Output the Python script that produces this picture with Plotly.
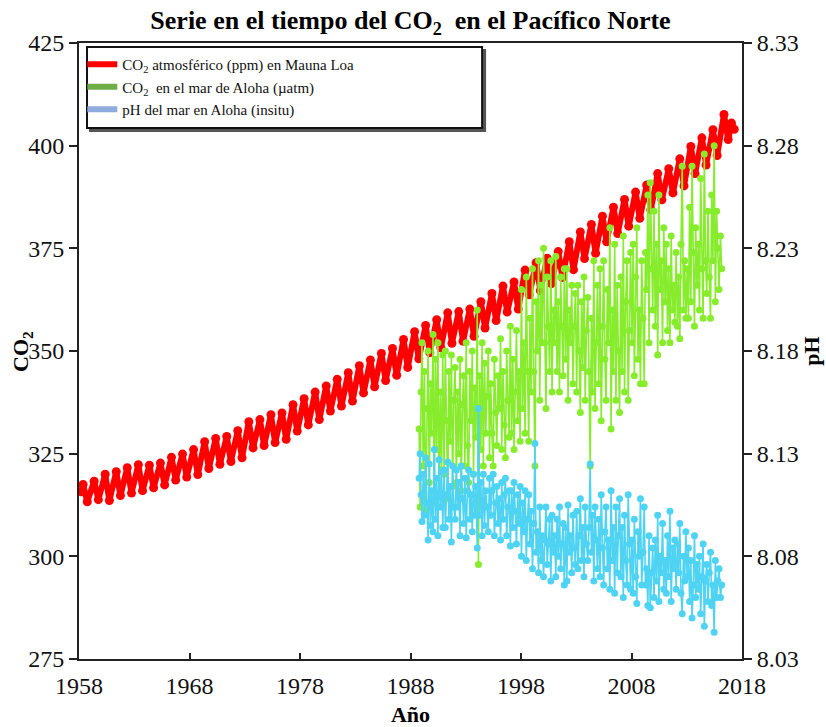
import plotly.graph_objects as go

# ---------------- Mauna Loa atmospheric CO2 (ppm): seasonal peaks / troughs ----------------
ml_time = [
    1958.21, 1958.37, 1958.75, 1959.37, 1959.75, 1960.37, 1960.75, 1961.37, 1961.75,
    1962.37, 1962.75, 1963.37, 1963.75, 1964.37, 1964.75, 1965.37, 1965.75, 1966.37, 1966.75,
    1967.37, 1967.75, 1968.37, 1968.75, 1969.37, 1969.75, 1970.37, 1970.75, 1971.37, 1971.75,
    1972.37, 1972.75, 1973.37, 1973.75, 1974.37, 1974.75, 1975.37, 1975.75, 1976.37, 1976.75,
    1977.37, 1977.75, 1978.37, 1978.75, 1979.37, 1979.75, 1980.37, 1980.75, 1981.37, 1981.75,
    1982.37, 1982.75, 1983.37, 1983.75, 1984.37, 1984.75, 1985.37, 1985.75, 1986.37, 1986.75,
    1987.37, 1987.75, 1988.37, 1988.75, 1989.37, 1989.75, 1990.37, 1990.75, 1991.37, 1991.75,
    1992.37, 1992.75, 1993.37, 1993.75, 1994.37, 1994.75, 1995.37, 1995.75, 1996.37, 1996.75,
    1997.37, 1997.75, 1998.37, 1998.75, 1999.37, 1999.75, 2000.37, 2000.75, 2001.37, 2001.75,
    2002.37, 2002.75, 2003.37, 2003.75, 2004.37, 2004.75, 2005.37, 2005.75, 2006.37, 2006.75,
    2007.37, 2007.75, 2008.37, 2008.75, 2009.37, 2009.75, 2010.37, 2010.75, 2011.37, 2011.75,
    2012.37, 2012.75, 2013.37, 2013.75, 2014.37, 2014.75, 2015.37, 2015.75, 2016.37, 2016.75,
    2017.05, 2017.30,
]
ml_co2 = [
    315.7, 317.5, 313.3, 318.3, 313.8, 320.0, 313.6, 320.6, 314.8,
    321.6, 315.4, 322.3, 316.0, 322.2, 316.7, 322.7, 317.4, 324.1, 318.6,
    324.9, 319.3, 326.0, 319.9, 327.9, 321.4, 328.7, 322.4, 329.2, 323.1,
    330.6, 324.0, 332.8, 326.4, 333.3, 327.0, 334.5, 327.7, 334.9, 328.5,
    336.9, 330.5, 338.4, 332.0, 340.0, 333.3, 341.5, 335.4, 343.1, 336.6,
    344.7, 337.8, 346.4, 339.8, 347.8, 341.3, 349.4, 342.8, 350.6, 344.1,
    352.8, 346.0, 354.7, 348.1, 356.2, 349.6, 357.6, 350.8, 359.3, 351.9,
    359.6, 352.4, 360.2, 353.6, 362.0, 355.6, 364.0, 357.4, 365.8, 359.5,
    366.8, 360.2, 369.7, 363.7, 371.5, 364.7, 372.6, 366.4, 374.2, 367.9,
    376.6, 369.8, 379.0, 372.5, 380.8, 373.8, 382.8, 376.6, 385.0, 378.6,
    386.9, 380.4, 388.7, 382.3, 390.4, 384.4, 393.2, 386.8, 394.4, 388.5,
    396.8, 390.2, 399.8, 393.2, 401.9, 395.3, 403.9, 397.6, 407.6, 401.5,
    405.5, 404.0,
]

# ---------------- Station ALOHA: seawater pCO2 (uatm) and pH (in situ) ----------------
aloha_time = [
    1988.78, 1988.87, 1988.96,
    1989.04, 1989.15, 1989.26, 1989.37, 1989.48, 1989.59, 1989.70, 1989.81, 1989.92,
    1990.04, 1990.15, 1990.26, 1990.37, 1990.48, 1990.59, 1990.70, 1990.81, 1990.92,
    1991.04, 1991.15, 1991.26, 1991.37, 1991.48, 1991.59, 1991.70, 1991.81, 1991.92,
    1992.04, 1992.15, 1992.26, 1992.37, 1992.48, 1992.59, 1992.70, 1992.81, 1992.92,
    1993.04, 1993.15, 1993.26, 1993.37, 1993.48, 1993.59, 1993.70, 1993.81, 1993.92,
    1994.04, 1994.15, 1994.26, 1994.37, 1994.48, 1994.59, 1994.70, 1994.81, 1994.92,
    1995.04, 1995.15, 1995.26, 1995.37, 1995.48, 1995.59, 1995.70, 1995.81, 1995.92,
    1996.04, 1996.15, 1996.26, 1996.37, 1996.48, 1996.59, 1996.70, 1996.81, 1996.92,
    1997.04, 1997.15, 1997.26, 1997.37, 1997.48, 1997.59, 1997.70, 1997.81, 1997.92,
    1998.04, 1998.15, 1998.26, 1998.37, 1998.48, 1998.59, 1998.70, 1998.81, 1998.92,
    1999.04, 1999.15, 1999.26, 1999.37, 1999.48, 1999.59, 1999.70, 1999.81, 1999.92,
    2000.04, 2000.15, 2000.26, 2000.37, 2000.48, 2000.59, 2000.70, 2000.81, 2000.92,
    2001.04, 2001.15, 2001.26, 2001.37, 2001.48, 2001.59, 2001.70, 2001.81, 2001.92,
    2002.04, 2002.15, 2002.26, 2002.37, 2002.48, 2002.59, 2002.70, 2002.81, 2002.92,
    2003.04, 2003.15, 2003.26, 2003.37, 2003.48, 2003.59, 2003.70, 2003.81, 2003.92,
    2004.04, 2004.15, 2004.26, 2004.37, 2004.48, 2004.59, 2004.70, 2004.81, 2004.92,
    2005.04, 2005.15, 2005.26, 2005.37, 2005.48, 2005.59, 2005.70, 2005.81, 2005.92,
    2006.04, 2006.15, 2006.26, 2006.37, 2006.48, 2006.59, 2006.70, 2006.81, 2006.92,
    2007.04, 2007.15, 2007.26, 2007.37, 2007.48, 2007.59, 2007.70, 2007.81, 2007.92,
    2008.04, 2008.15, 2008.26, 2008.37, 2008.48, 2008.59, 2008.70, 2008.81, 2008.92,
    2009.04, 2009.15, 2009.26, 2009.37, 2009.48, 2009.59, 2009.70, 2009.81, 2009.92,
    2010.04, 2010.15, 2010.26, 2010.37, 2010.48, 2010.59, 2010.70, 2010.81, 2010.92,
    2011.04, 2011.15, 2011.26, 2011.37, 2011.48, 2011.59, 2011.70, 2011.81, 2011.92,
    2012.04, 2012.15, 2012.26, 2012.37, 2012.48, 2012.59, 2012.70, 2012.81, 2012.92,
    2013.04, 2013.15, 2013.26, 2013.37, 2013.48, 2013.59, 2013.70, 2013.81, 2013.92,
    2014.04, 2014.15, 2014.26, 2014.37, 2014.48, 2014.59, 2014.70, 2014.81, 2014.92,
    2015.04, 2015.15, 2015.26, 2015.37, 2015.48, 2015.59, 2015.70, 2015.81, 2015.92,
    2016.05, 2016.16,
]
aloha_pco2 = [
    331, 312, 340,
    352, 322, 345, 311, 336, 350, 318, 342, 330,
    354, 313, 348, 326, 352, 315, 340, 321, 349,
    320, 350, 333, 314, 345, 328, 349, 317, 338,
    346, 318, 340, 325, 348, 316, 337, 344, 322,
    352, 327, 318, 345, 333, 350, 320, 341, 329,
    360, 298, 344, 326, 352, 322, 347, 330, 339,
    350, 324, 342, 330, 322, 348, 335, 327, 344,
    336, 353, 326, 345, 332, 324, 350, 338, 329,
    356, 330, 348, 326, 340, 355, 333, 345, 328,
    365, 336, 352, 330, 368, 345, 328, 358, 340,
    370, 345, 322, 362, 350, 372, 338, 366, 352,
    375, 352, 336, 368, 356, 345, 372, 340, 360,
    352, 373, 345, 362, 340, 368, 356, 344, 370,
    348, 370, 338, 360, 352, 366, 342, 356, 364,
    340, 366, 350, 335, 362, 346, 368, 338, 355,
    363, 345, 322, 358, 340, 372, 336, 352, 366,
    342, 370, 333, 356, 372, 348, 338, 365, 352,
    380, 331, 360, 345, 376, 338, 366, 350, 335,
    368, 345, 378, 340, 362, 372, 338, 355, 374,
    352, 376, 344, 368, 380, 348, 360, 342, 372,
    358, 342, 374, 365, 388, 352, 391, 370, 360,
    384, 356, 376, 349, 388, 365, 372, 352, 380,
    362, 376, 355, 370, 352, 378, 360, 366, 357,
    374, 356, 368, 353, 376, 395, 360, 372, 358,
    370, 358, 385, 362, 395, 374, 356, 380, 366,
    376, 360, 392, 370, 358, 398, 372, 364, 384,
    368, 358, 388, 372, 400, 362, 384, 375, 365,
    378, 370,
]
aloha_ph = [
    8.118, 8.130, 8.110,
    8.097, 8.120, 8.100, 8.128, 8.106, 8.088, 8.125, 8.095, 8.112,
    8.092, 8.132, 8.098, 8.118, 8.090, 8.127, 8.104, 8.121, 8.094,
    8.122, 8.094, 8.110, 8.126, 8.098, 8.114, 8.087, 8.124, 8.104,
    8.098, 8.122, 8.104, 8.116, 8.090, 8.124, 8.108, 8.096, 8.118,
    8.089, 8.112, 8.122, 8.098, 8.110, 8.092, 8.120, 8.100, 8.114,
    8.084, 8.152, 8.100, 8.116, 8.090, 8.120, 8.095, 8.112, 8.104,
    8.092, 8.118, 8.100, 8.112, 8.120, 8.090, 8.106, 8.114, 8.096,
    8.108, 8.088, 8.116, 8.098, 8.110, 8.118, 8.090, 8.104, 8.112,
    8.085, 8.112, 8.094, 8.116, 8.102, 8.086, 8.110, 8.096, 8.114,
    8.080, 8.106, 8.092, 8.112, 8.078, 8.098, 8.110, 8.086, 8.102,
    8.074, 8.096, 8.135, 8.082, 8.092, 8.072, 8.104, 8.078, 8.090,
    8.070, 8.088, 8.104, 8.076, 8.086, 8.098, 8.068, 8.100, 8.082,
    8.090, 8.070, 8.098, 8.080, 8.104, 8.074, 8.086, 8.096, 8.066,
    8.094, 8.068, 8.105, 8.082, 8.090, 8.072, 8.100, 8.084, 8.076,
    8.102, 8.074, 8.090, 8.108, 8.078, 8.094, 8.070, 8.104, 8.086,
    8.078, 8.094, 8.125, 8.082, 8.100, 8.068, 8.104, 8.088, 8.074,
    8.098, 8.070, 8.110, 8.084, 8.066, 8.092, 8.104, 8.074, 8.088,
    8.064, 8.112, 8.078, 8.094, 8.062, 8.104, 8.072, 8.090, 8.108,
    8.070, 8.094, 8.060, 8.100, 8.078, 8.066, 8.110, 8.086, 8.064,
    8.088, 8.062, 8.098, 8.070, 8.057, 8.092, 8.080, 8.108, 8.066,
    8.082, 8.104, 8.066, 8.074, 8.056, 8.090, 8.055, 8.072, 8.084,
    8.060, 8.088, 8.068, 8.100, 8.058, 8.080, 8.072, 8.096, 8.064,
    8.078, 8.062, 8.090, 8.070, 8.102, 8.058, 8.084, 8.074, 8.088,
    8.064, 8.086, 8.072, 8.096, 8.062, 8.052, 8.080, 8.068, 8.092,
    8.070, 8.084, 8.058, 8.078, 8.050, 8.066, 8.090, 8.060, 8.076,
    8.064, 8.080, 8.052, 8.070, 8.086, 8.046, 8.068, 8.076, 8.058,
    8.072, 8.082, 8.056, 8.066, 8.043, 8.078, 8.060, 8.068, 8.074,
    8.060, 8.066,
]

# ---------------- axes / labels ----------------
year_ticks = [1958, 1968, 1978, 1988, 1998, 2008, 2018]
co2_ticks = [275, 300, 325, 350, 375, 400, 425]
ph_ticks = [8.03, 8.08, 8.13, 8.18, 8.23, 8.28, 8.33]
ph_tick_text = ["8.03", "8.08", "8.13", "8.18", "8.23", "8.28", "8.33"]

legend_names = [
    "CO<sub>2</sub> atmosférico (ppm) en Mauna Loa",
    "CO<sub>2</sub>  en el mar de Aloha (µatm)",
    "pH del mar en Aloha (insitu)",
]
legend_colors = ["#ff0000", "#70ad47", "#8faadc"]

SERIF = "Liberation Serif, Times New Roman, serif"

fig = go.Figure()

fig.add_trace(go.Scatter(
    x=ml_time, y=ml_co2, mode="lines+markers",
    line=dict(color="#ff0000", width=6),
    marker=dict(color="#ff0000", size=9),
    showlegend=False, yaxis="y",
))
fig.add_trace(go.Scatter(
    x=aloha_time, y=aloha_pco2, mode="lines+markers",
    line=dict(color="#86ec2c", width=1.6),
    marker=dict(color="#86ec2c", size=7),
    showlegend=False, yaxis="y",
))
fig.add_trace(go.Scatter(
    x=aloha_time, y=aloha_ph, mode="lines+markers",
    line=dict(color="#4fd3f3", width=1.6),
    marker=dict(color="#4fd3f3", size=7),
    showlegend=False, yaxis="y2",
))

# legend-only entries (legend swatch colours differ from the plotted marks)
for name, col in zip(legend_names, legend_colors):
    fig.add_trace(go.Scatter(
        x=[None], y=[None], mode="lines", name=name,
        line=dict(color=col, width=6), showlegend=True,
    ))

# legend frame with drop shadow
fig.add_shape(type="rect", xref="paper", yref="paper",
              x0=0.0166, x1=0.6125, y0=0.857, y1=0.9885,
              line=dict(color="#555555", width=2), fillcolor="#555555", layer="below")
fig.add_shape(type="rect", xref="paper", yref="paper",
              x0=0.0121, x1=0.608, y0=0.862, y1=0.9935,
              line=dict(color="#111111", width=2), fillcolor="white", layer="below")

# left axis title placed as a rotated annotation
fig.add_annotation(
    text="<b>CO<sub>2</sub></b>", textangle=-90,
    xref="paper", yref="paper", x=-0.086, y=0.5,
    xanchor="center", yanchor="middle", showarrow=False,
    font=dict(family=SERIF, size=22, color="#000000"),
)

fig.update_layout(
    width=826, height=727,
    margin=dict(l=79, r=84, t=43, b=68),
    paper_bgcolor="white", plot_bgcolor="white",
    font=dict(family=SERIF, color="#111111"),
    hovermode=False,
    title=dict(
        text="<b>Serie en el tiempo del CO<sub>2</sub>  en el Pacífico Norte</b>",
        x=0.497, xanchor="center", y=0.985, yanchor="top", yref="container",
        font=dict(family=SERIF, size=26, color="#000000"),
    ),
    legend=dict(
        x=0.005, y=0.992, xanchor="left", yanchor="top",
        bgcolor="rgba(0,0,0,0)", borderwidth=0,
        font=dict(family=SERIF, size=15, color="#111111"),
        tracegroupgap=0,
    ),
    xaxis=dict(
        range=[1958, 2018], tickvals=year_ticks,
        ticks="inside", ticklen=6, tickwidth=1.5, tickcolor="#222222",
        showline=True, linecolor="#222222", linewidth=2, mirror=True,
        showgrid=False, zeroline=False,
        tickfont=dict(family=SERIF, size=24, color="#111111"),
        ticklabelstandoff=4,
        title=dict(text="<b>Año</b>", font=dict(family=SERIF, size=22, color="#000000"), standoff=11),
        automargin=False,
    ),
    yaxis=dict(
        range=[275, 425], tickvals=co2_ticks,
        ticks="outside", ticklen=8, tickwidth=1.5, tickcolor="#222222",
        showline=True, linecolor="#222222", linewidth=2,
        showgrid=False, zeroline=False,
        tickfont=dict(family=SERIF, size=24, color="#111111"),
        automargin=False,
    ),
    yaxis2=dict(
        range=[8.03, 8.33], tickvals=ph_ticks, ticktext=ph_tick_text,
        overlaying="y", side="right",
        ticks="outside", ticklen=8, tickwidth=1.5, tickcolor="#222222",
        showline=True, linecolor="#222222", linewidth=2,
        showgrid=False, zeroline=False,
        tickfont=dict(family=SERIF, size=24, color="#111111"),
        title=dict(text="<b>pH</b>", font=dict(family=SERIF, size=22, color="#000000"), standoff=2),
        automargin=False,
    ),
)

# the page body has a default 8px margin; remove it so the 826x727 figure fills the window
fig.write_html(
    "out.html",
    config={"displayModeBar": False},
    post_script="document.body.style.margin='0px';",
)
